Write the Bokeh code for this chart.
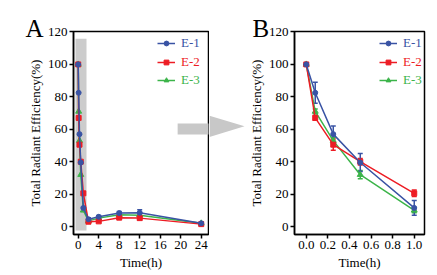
from bokeh.plotting import figure
from bokeh.layouts import row
from bokeh.models import (ColumnDataSource, Whisker, TeeHead, Legend, LegendItem,
                          FixedTicker, PrintfTickFormatter, Range1d, Title)
from bokeh.embed import file_html
from bokeh.resources import INLINE

# ---------------- data ----------------
times = [0, 0.083, 0.25, 0.5, 1, 2, 4, 8, 12, 24]
e1 = [100, 82.5, 57, 39.5, 11.5, 4.5, 6.0, 8.3, 8.5, 2.0]
e1_err = [0, 6.5, 5.0, 5.5, 4.5, 1.0, 0.8, 1.0, 1.8, 0.5]
e2 = [100, 67, 50.5, 40, 20.5, 3.0, 3.2, 5.5, 5.2, 1.5]
e2_err = [0, 1.5, 3.5, 2.0, 2.0, 0.8, 0.5, 1.0, 1.0, 0.5]
e3 = [100, 71, 53, 32, 10, 3.5, 5.2, 7.3, 7.0, 2.0]
e3_err = [0, 1.5, 2.0, 2.5, 1.5, 0.5, 0.5, 0.8, 0.8, 0.3]
series_names = ["E-1", "E-2", "E-3"]
a_xticks = [0, 4, 8, 12, 16, 20, 24]
b_xticks = [0, 0.2, 0.4, 0.6, 0.8, 1.0]
yticks = [0, 20, 40, 60, 80, 100, 120]
zoom_window = 1.0  # panel B shows t <= 1 h

# decorations
band = dict(left=-0.53, right=1.62, bottom=-2.4, top=115.9)      # gray band, panel A data units
arrow_body = dict(x0=19.4, x1=30.0, y0=56.8, y1=63.5)            # arrow shaft, panel A data units
arrow_head = dict(x=[209, 244, 209], y=[114, 128.5, 143])         # arrow head, page pixels

colors = ["#3953a4", "#ed1c24", "#3cb44a"]
markers = ["circle", "square", "triangle"]
msizes = [5, 5, 6]
FONT = "Liberation Serif"
H = 275


def style(p, xticks):
    p.xgrid.visible = False
    p.ygrid.visible = False
    p.outline_line_color = "black"
    p.outline_line_width = 1.5
    p.outline_line_alpha = 1
    for ax in (p.xaxis[0], p.yaxis[0]):
        ax.axis_line_width = 1.5
        ax.major_tick_line_width = 1.5
        ax.major_tick_in = 0
        ax.major_tick_out = 4
        ax.minor_tick_line_color = None
        ax.major_label_text_font = FONT
        ax.major_label_text_font_size = "13px"
        ax.major_label_text_color = "black"
        ax.major_label_standoff = 2
        ax.axis_label_text_font = FONT
        ax.axis_label_text_font_size = "13px"
        ax.axis_label_text_font_style = "normal"
        ax.axis_label_text_color = "black"
    p.xaxis[0].ticker = FixedTicker(ticks=xticks)
    p.yaxis[0].ticker = FixedTicker(ticks=yticks)
    p.yaxis[0].axis_label = "Total Radiant Efficiency(%)"
    p.yaxis[0].axis_label_standoff = 2
    p.xaxis[0].axis_label = "Time(h)"
    p.xaxis[0].axis_label_standoff = 3


def add_series(p, xs, legend_x, legend_rows):
    data = [(e1, e1_err), (e2, e2_err), (e3, e3_err)]
    rends = {}
    for i in [2, 1, 0]:
        ys, errs = data[i]
        n = len(xs)
        ys = ys[:n]
        errs = errs[:n]
        src = ColumnDataSource(dict(x=xs, y=ys,
                                    up=[y + e for y, e in zip(ys, errs)],
                                    lo=[y - e for y, e in zip(ys, errs)]))
        w = Whisker(source=src, base="x", upper="up", lower="lo",
                    line_color=colors[i], line_width=1.5,
                    upper_head=TeeHead(size=5, line_color=colors[i], line_width=1.5),
                    lower_head=TeeHead(size=5, line_color=colors[i], line_width=1.5))
        p.add_layout(w)
        ln = p.line("x", "y", source=src, line_color=colors[i], line_width=1.5)
        mk = p.scatter("x", "y", source=src, marker=markers[i], size=msizes[i],
                       fill_color=colors[i], line_color=colors[i])
        rends[i] = (ln, mk)
    for i in range(3):
        leg = Legend(items=[LegendItem(label=series_names[i], renderers=list(rends[i]))],
                     location=(legend_x, legend_rows[i]),
                     label_text_color=colors[i], label_text_font=FONT,
                     label_text_font_size="13px", glyph_width=18, glyph_height=12,
                     label_height=12, label_standoff=6, padding=0, margin=0, spacing=0,
                     border_line_alpha=0, background_fill_alpha=0)
        p.add_layout(leg)


def panel_letter(p, letter, offset):
    p.add_layout(Title(text=letter, align="left", offset=offset, standoff=-21,
                       text_font=FONT, text_font_size="25px", text_font_style="normal",
                       text_color="black"), "above")


# ---------------- panel A ----------------
pA = figure(width=209, height=H, x_range=(-0.92, 25.42), y_range=(-4.9, 120.3),
            output_backend="svg", toolbar_location=None,
            min_border_left=73, min_border_right=1, min_border_top=31, min_border_bottom=41)
style(pA, a_xticks)
pA.quad(left=[band["left"]], right=[band["right"]], bottom=[band["bottom"]], top=[band["top"]],
        fill_color="#cccccc", line_color=None)
pA.quad(left=[arrow_body["x0"]], right=[arrow_body["x1"]],
        bottom=[arrow_body["y0"]], top=[arrow_body["y1"]],
        fill_color="#c8c8c8", line_color=None)
add_series(pA, times, 84, [183, 164, 146])
panel_letter(pA, "A", -48)

# ---------------- arrow head (between panels) ----------------
mid = figure(width=36, height=H, x_range=Range1d(209, 245), y_range=Range1d(H, 0),
             output_backend="svg", toolbar_location=None, min_border=0,
             x_axis_location=None, y_axis_location=None, outline_line_color=None)
mid.xgrid.visible = False
mid.ygrid.visible = False
mid.patch(arrow_head["x"], arrow_head["y"], fill_color="#c8c8c8", line_color=None)

# ---------------- panel B ----------------
tb = [t for t in times if t <= zoom_window]
pB = figure(width=192, height=H, x_range=(-0.109, 1.095), y_range=(-4.9, 120.3),
            output_backend="svg", toolbar_location=None,
            min_border_left=43, min_border_right=13, min_border_top=31, min_border_bottom=41)
style(pB, b_xticks)
pB.xaxis[0].formatter = PrintfTickFormatter(format="%.1f")
add_series(pB, tb, 85, [183, 164, 146])
panel_letter(pB, "B", -42)

layout = row(pA, mid, pB)
open("out.html", "w").write(file_html(layout, INLINE))
